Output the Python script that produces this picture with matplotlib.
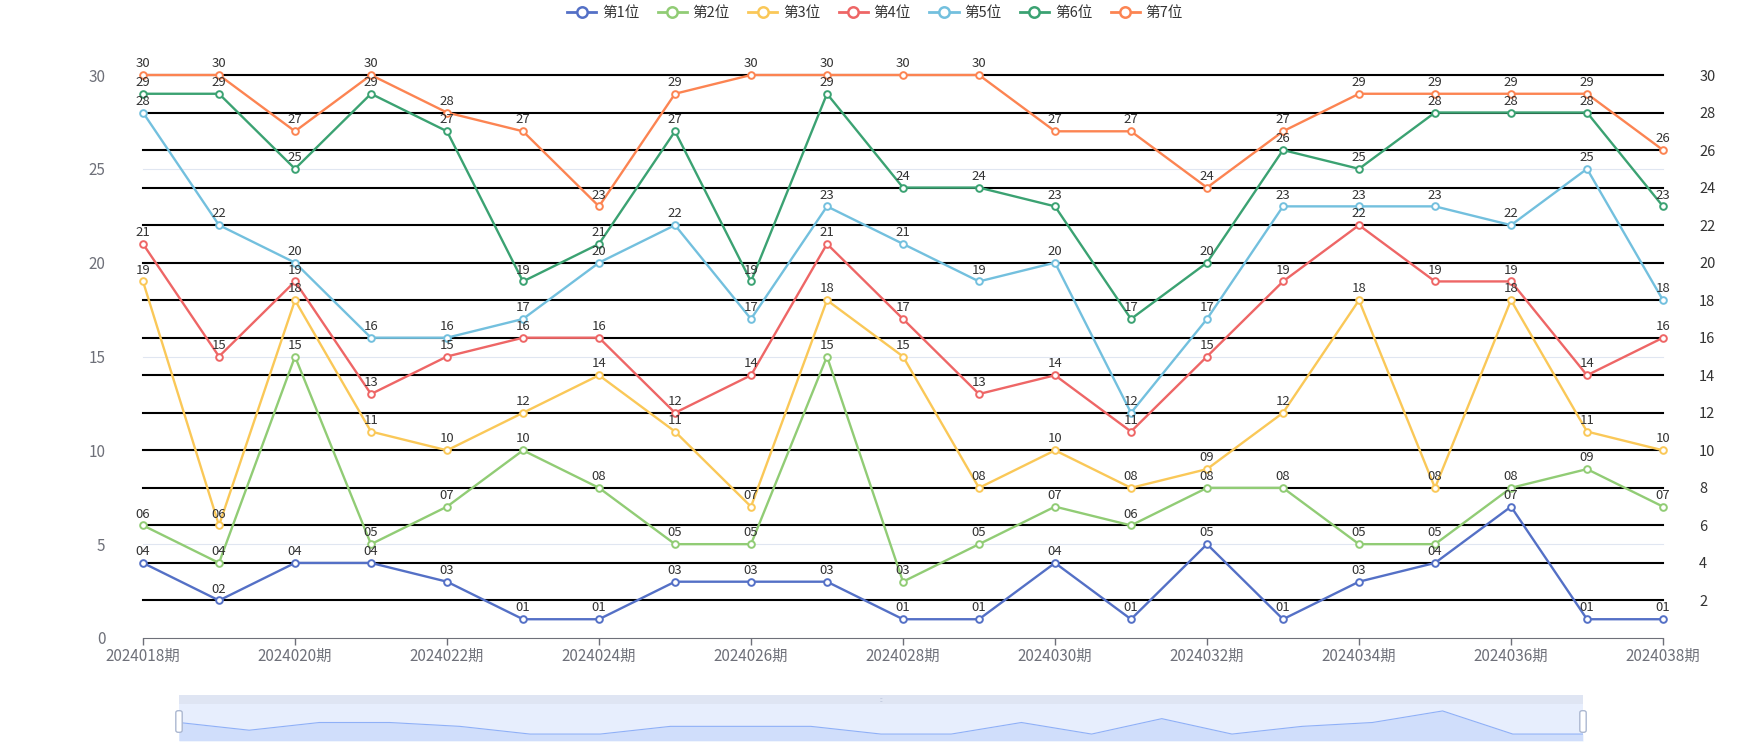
import numpy as np
import matplotlib
matplotlib.use("Agg")
import matplotlib.pyplot as plt
from matplotlib.lines import Line2D
from matplotlib.patches import FancyBboxPatch, Rectangle

plt.rcParams["font.family"] = ["Noto Sans CJK SC", "DejaVu Sans"]

W, H = 1750, 750

periods = [f"2024{n:03d}期" for n in range(18, 39)]
names = ["第1位", "第2位", "第3位", "第4位", "第5位", "第6位", "第7位"]
colors = ["#5470c6", "#91cc75", "#fac858", "#ee6666", "#73c0de", "#3ba272", "#fc8452"]

pos1 = [4, 2, 4, 4, 3, 1, 1, 3, 3, 3, 1, 1, 4, 1, 5, 1, 3, 4, 7, 1, 1]
pos2 = [6, 4, 15, 5, 7, 10, 8, 5, 5, 15, 3, 5, 7, 6, 8, 8, 5, 5, 8, 9, 7]
pos3 = [19, 6, 18, 11, 10, 12, 14, 11, 7, 18, 15, 8, 10, 8, 9, 12, 18, 8, 18, 11, 10]
pos4 = [21, 15, 19, 13, 15, 16, 16, 12, 14, 21, 17, 13, 14, 11, 15, 19, 22, 19, 19, 14, 16]
pos5 = [28, 22, 20, 16, 16, 17, 20, 22, 17, 23, 21, 19, 20, 12, 17, 23, 23, 23, 22, 25, 18]
pos6 = [29, 29, 25, 29, 27, 19, 21, 27, 19, 29, 24, 24, 23, 17, 20, 26, 25, 28, 28, 28, 23]
pos7 = [30, 30, 27, 30, 28, 27, 23, 29, 30, 30, 30, 30, 27, 27, 24, 27, 29, 29, 29, 29, 26]
series = [pos1, pos2, pos3, pos4, pos5, pos6, pos7]

left_ticks = [0, 5, 10, 15, 20, 25, 30]
right_ticks = list(range(2, 31, 2))

AXIS_GREY = "#6E7079"


def box(x0, y0, x1, y1):
    # pixel box (top-left origin) -> figure fraction rect
    return [x0 / W, 1 - y1 / H, (x1 - x0) / W, (y1 - y0) / H]


fig = plt.figure(figsize=(W / 100, H / 100), dpi=100)
ax = fig.add_axes(box(143, 75, 1663, 638))
x = np.arange(len(periods))

# split lines
for t in left_ticks[1:]:
    ax.axhline(t, color="#E0E6F1", lw=0.8, zorder=1, clip_on=False)
for t in right_ticks:
    ax.axhline(t, color="black", lw=1.5, zorder=2, clip_on=False)

for vals, c in zip(series, colors):
    ax.plot(x, vals, color=c, lw=1.7, marker="o", markersize=4.8,
            markerfacecolor="white", markeredgecolor=c, markeredgewidth=1.4,
            zorder=4, clip_on=False)
    for i, v in enumerate(vals):
        ax.annotate(f"{v:02d}", (i, v), xytext=(0, 3.5), textcoords="offset points",
                    ha="center", va="bottom", fontsize=9.5, color="#333333", zorder=5)

ax.set_xlim(0, len(periods) - 1)
ax.set_ylim(0, 30)
ax.set_yticks(left_ticks)
ax.tick_params(axis="y", length=0, pad=27, labelsize=11, labelcolor=AXIS_GREY)
ax.set_xticks(x[::2])
ax.set_xticklabels(periods[::2])
ax.tick_params(axis="x", length=5, width=1, color=AXIS_GREY, pad=2,
               labelsize=11, labelcolor=AXIS_GREY)
for s in ["top", "right", "left"]:
    ax.spines[s].set_visible(False)
ax.spines["bottom"].set_color(AXIS_GREY)
ax.spines["bottom"].set_zorder(3)

ax2 = ax.twinx()
ax2.set_ylim(0, 30)
ax2.set_yticks(right_ticks)
ax2.tick_params(axis="y", length=0, pad=26, labelsize=10.5, labelcolor="#333333")
for s in ax2.spines.values():
    s.set_visible(False)

# legend
handles = [Line2D([0], [0], color=c, lw=2, marker="o", markersize=7.5,
                  markerfacecolor="white", markeredgecolor=c, markeredgewidth=1.8)
           for c in colors]
fig.legend(handles, names, loc="center", bbox_to_anchor=(0.5, 1 - 13 / H), ncol=7,
           frameon=False, fontsize=10.5, handlelength=2.0, handletextpad=0.4,
           columnspacing=1.25, labelcolor="#333333")

# data zoom slider
band = fig.add_axes(box(179, 695, 1583, 704))
band.add_patch(Rectangle((0, 0), 1, 1, color="#dfe5f3", transform=band.transAxes))
band.text(0.5, 0.5, "::", ha="center", va="center", fontsize=5, color="#ACB8D1",
          transform=band.transAxes)
band.axis("off")

dz = fig.add_axes(box(179, 704, 1583, 741))
dz.add_patch(Rectangle((0, 0), 1, 1, facecolor="#e7eefd", edgecolor="none",
                       transform=dz.transAxes))
lo, hi = min(pos1), max(pos1)
pad = (hi - lo) * 0.3
dz.fill_between(x, pos1, lo - pad, color="#8fb0f7", alpha=0.25, lw=0)
dz.plot(x, pos1, color="#8fb0f7", lw=0.8)
dz.set_xlim(0, len(periods) - 1)
dz.set_ylim(lo - pad, hi + pad)
dz.axis("off")

for px in (179, 1583):
    h = fig.add_axes(box(px - 4, 710, px + 4, 733))
    h.add_patch(FancyBboxPatch((0.1, 0.03), 0.8, 0.94, boxstyle="round,pad=0,rounding_size=0.3",
                               facecolor="white", edgecolor="#ACB8D1", lw=1,
                               transform=h.transAxes, mutation_aspect=0.3))
    h.axis("off")

fig.savefig("out.png", dpi=100)
